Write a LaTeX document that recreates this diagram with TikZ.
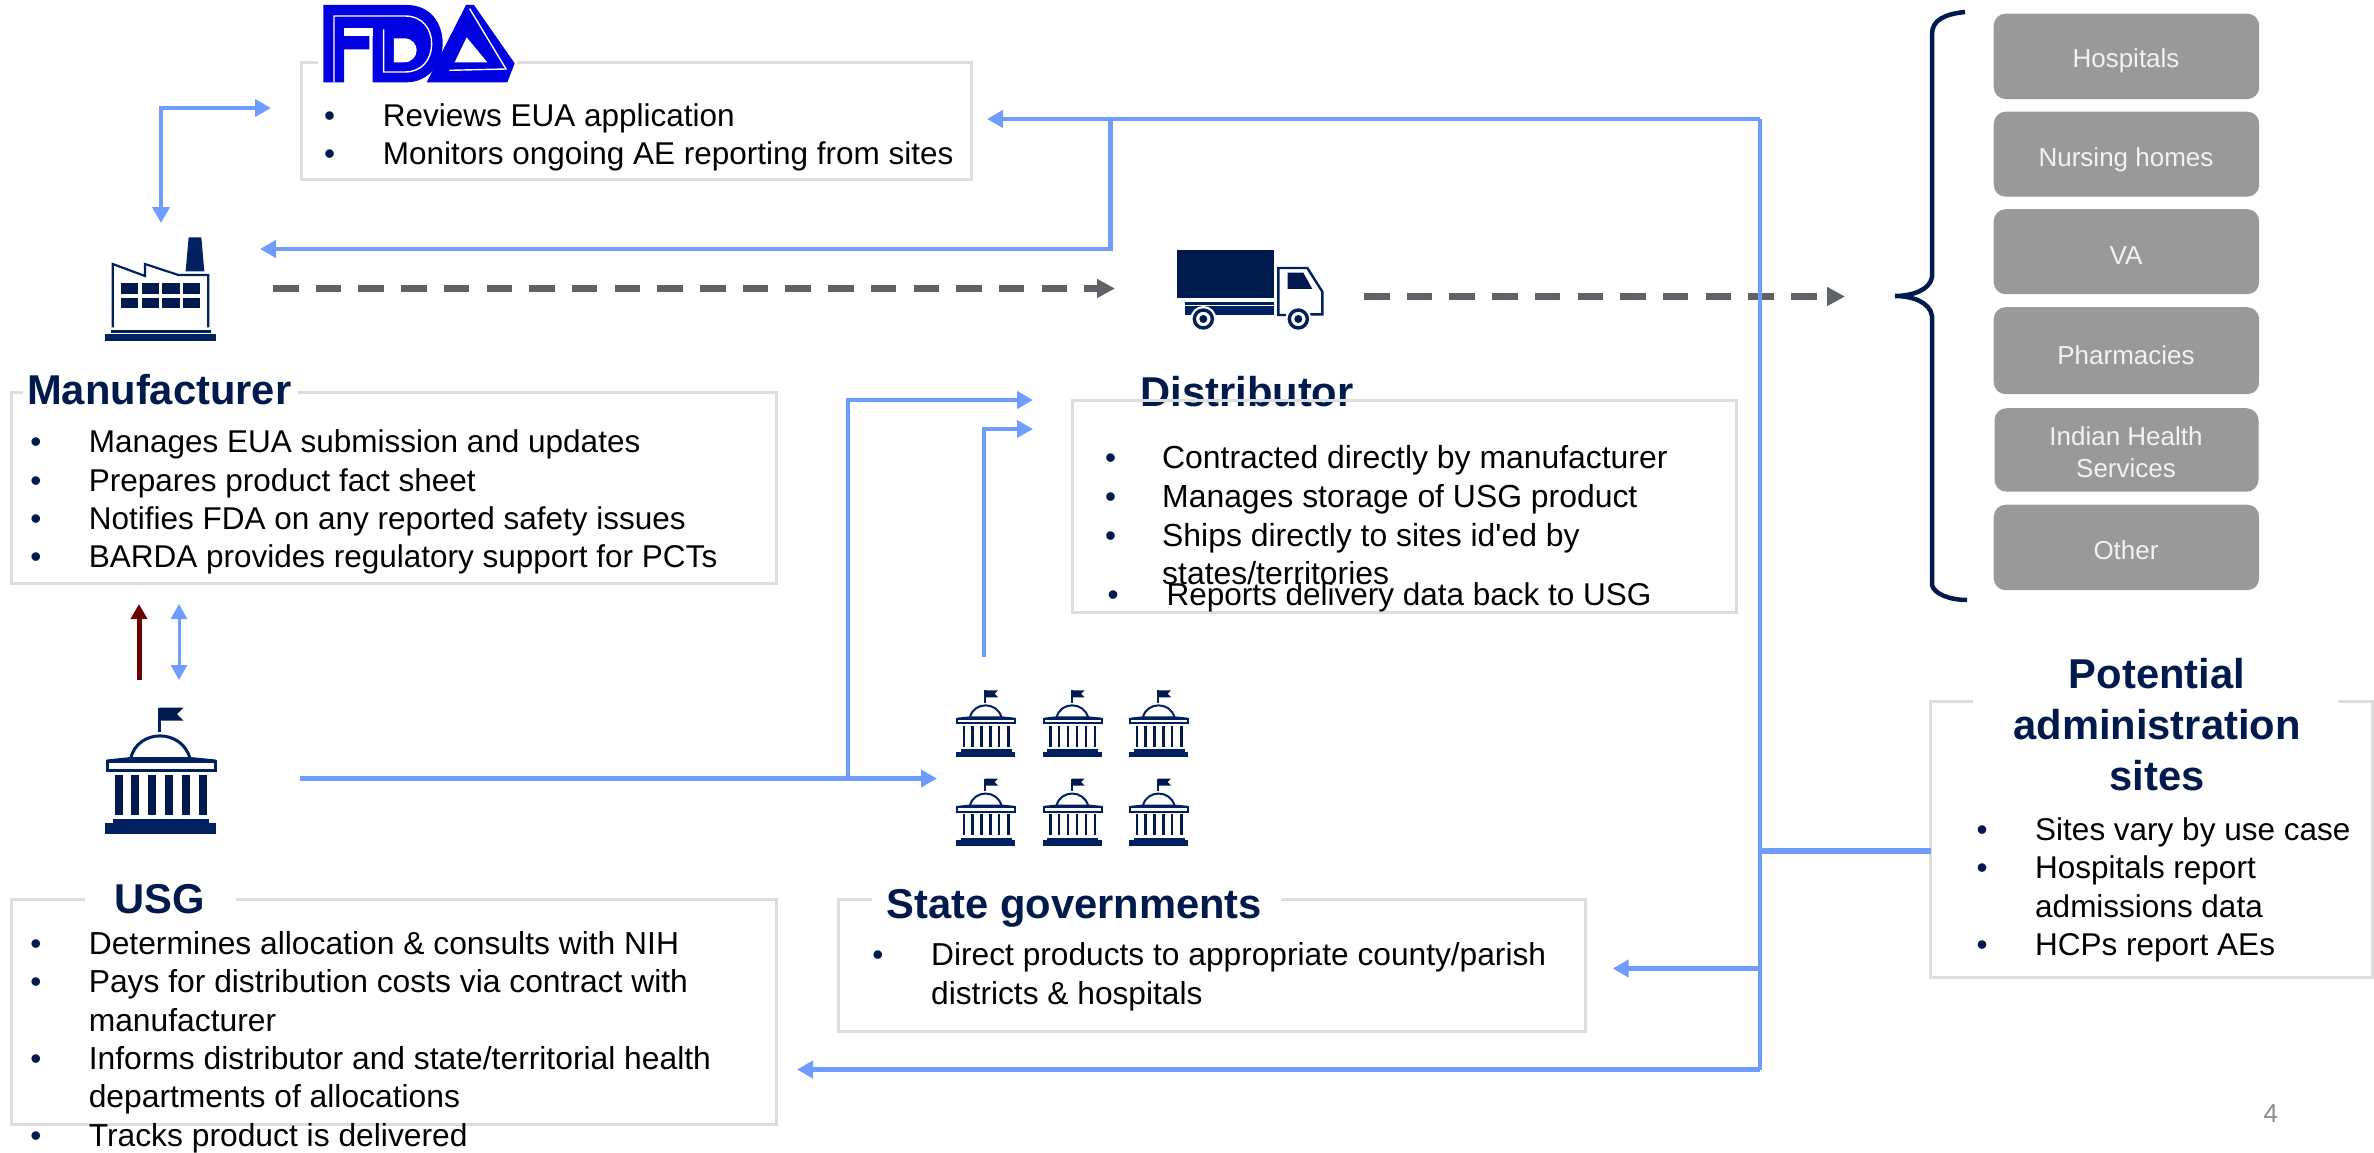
\documentclass[tikz,border=0pt]{standalone}
\usepackage{fontspec}
\setmainfont{Liberation Sans}
\usetikzlibrary{arrows.meta}
\definecolor{navy}{HTML}{001A4D}
\definecolor{iconblue}{HTML}{002060}
\definecolor{boxline}{HTML}{DDDDDD}
\definecolor{flow}{HTML}{6E9CFF}
\definecolor{dashgrey}{HTML}{5F6368}
\definecolor{maroon}{HTML}{6B0000}
\definecolor{fdablue}{HTML}{0000E0}
\definecolor{chip}{HTML}{999999}
\definecolor{chiptext}{HTML}{F2F2F2}
\tikzset{
  panel/.style={draw=boxline,line width=3pt,rectangle,anchor=north west,inner sep=0pt},
  body/.style={anchor=base west,inner sep=0pt,text=black,font=\fontsize{31.5}{38}\selectfont},
  bull/.style={anchor=base,inner sep=0pt,text=navy,font=\fontsize{31.5}{38}\selectfont},
  heading/.style={anchor=base west,inner sep=0pt,text=navy,font=\fontsize{41.7}{51}\selectfont\bfseries},
  headc/.style={heading,anchor=base},
  chipbox/.style={fill=chip,rounded corners=12pt,anchor=north west,inner sep=0pt,rectangle},
  chiplabel/.style={anchor=base,inner sep=0pt,text=chiptext,font=\fontsize{26}{31}\selectfont},
  flowline/.style={draw=flow,line width=4.5pt},
  flowarrow/.style={flowline,-{Triangle[length=16pt,width=17pt]}},
  dashflow/.style={draw=dashgrey,line width=7pt,dash pattern=on 25.5pt off 17.2pt,-{Triangle[length=18pt,width=18pt]}},
}
\newcommand{\bitem}[5]{%
  \node[bull] (#1b) at (#2,#4) {•};
  \node[body] (#1) at (#3,#4) {#5};}
\newcommand{\govicon}[5]{%
\begin{scope}[shift={(#1,#2)},scale=#3]
  \draw[iconblue,line width=#4pt] (54.4,0) -- (54.4,24.5);
  \fill[navy] (54.4,0) -- (78.7,0) -- (72,6.5) -- (78.7,13.2) -- (54.4,13.2) -- cycle;
  \draw[iconblue,line width=#4pt] (25.7,51) .. controls (29,36) and (42,28.4) .. (55,28.4) .. controls (68,28.4) and (81,36) .. (85,51);
  \draw[iconblue,line width=#4pt] (2,53.5) -- (25.7,51) -- (85,51) -- (110.6,53.5);
  \draw[iconblue,line width=#4pt] (2,53.5) rectangle (110.6,62.5);
  \foreach \cx in {9.8,26.4,43,60,76.8,94}
    \fill[navy] (\cx+4-#5/2,67.5) rectangle ++(#5,39.5);
  \fill[iconblue] (8,111.5) rectangle (104,115.5);
  \fill[iconblue] (0,115.5) rectangle (111,126.5);
\end{scope}}
\begin{document}
\begin{tikzpicture}[x=1pt,y=-1pt]
\useasboundingbox (0,0) rectangle (2374,1153);
\fill[white] (0,0) rectangle (2374,1153);

% panels
\node[panel,minimum width=670pt,minimum height=117pt] (fdabox) at (300,61) {};
\node[panel,minimum width=765pt,minimum height=191pt] (mfgbox) at (10,391) {};
\node[panel,minimum width=765pt,minimum height=225pt] (usgbox) at (10,898) {};
\node[panel,minimum width=747pt,minimum height=132pt] (statebox) at (837.4,898) {};
\node[heading] (disttitle) at (1140.3,406.7) {Distributor};
\node[panel,minimum width=664pt,minimum height=212pt] (distbox) at (1071.4,398.7) {};
\node[panel,minimum width=442pt,minimum height=276pt] (sitebox) at (1928.5,700) {};

% gaps in the panel frames
\fill[white] (23,385) rectangle (298,397);
\fill[white] (85,892) rectangle (236,904);
\fill[white] (872,892) rectangle (1281,904);
\fill[white] (1973,694) rectangle (2338,706);
\fill[white] (318,50) rectangle (517,90);

% FDA logo
\begin{scope}[shift={(310,0)},x=0.3333pt,y=-0.3333pt]
  \fill[fdablue] (40,15) -- (290,15) .. controls (362,15) and (398,70) .. (398,130) .. controls (398,195) and (352,247) .. (290,247) -- (188,247) -- (188,108) -- (178,108) -- (178,148) -- (102,148) -- (102,247) -- (40,247) -- cycle;
  \fill[white] (102,85) rectangle (188,108);
  \fill[white] (252,115) -- (282,115) .. controls (308,115) and (320,135) .. (320,150) .. controls (320,170) and (306,187) .. (282,187) -- (252,187) -- cycle;
  \draw[white,line width=1.4pt] (72,247) -- (72,48) -- (285,48) .. controls (340,48) and (365,90) .. (365,130) .. controls (365,180) and (335,216) .. (285,216) -- (221,216) -- (221,88);
  \fill[fdablue] (350,247) -- (468,15) -- (492,15) -- (614,190) -- (592,247) -- cycle;
  \fill[white] (470,112) -- (532,187) -- (434,187) -- cycle;
  \draw[white,line width=1.4pt] (479,26) -- (588,207) -- (418,211);
\end{scope}

% factory
\begin{scope}[shift={(95,230)},x=0.3333pt,y=-0.3333pt]
  \fill[iconblue] (281,22) -- (319,22) -- (328,124) -- (272,124) -- cycle;
  \draw[iconblue,line width=2.2pt] (53,292) -- (53,102) -- (150,138) -- (150,102) -- (250,135) -- (340,135) -- (340,292);
  \foreach \wx in {78,140,202,264} {
    \fill[navy] (\wx,160) rectangle ++(52,32);
    \fill[navy] (\wx,204) rectangle ++(52,31);
  }
  \fill[iconblue] (48,300) rectangle (347,310);
  \fill[iconblue] (31,311) rectangle (363,334);
\end{scope}

% truck
\begin{scope}[shift={(1170,240)},x=0.3333pt,y=-0.3333pt]
  \fill[navy] (22,30) rectangle (313,173);
  \fill[iconblue] (45,185) rectangle (313,226);
  \draw[white,line width=0.7pt] (45,196) -- (313,196);
  \draw[iconblue,line width=2.4pt] (350,225) -- (325,225) -- (325,84) -- (412,84) -- (457,155) -- (457,223) -- (420,223);
  \fill[navy] (353,98) -- (400,98) -- (427,147) -- (353,147) -- cycle;
  \foreach \wc in {100,385} {
    \fill[white] (\wc,237) circle [radius=13pt];
    \draw[iconblue,line width=3.4pt] (\wc,237) circle [radius=9pt];
    \fill[navy] (\wc,237) circle [radius=4pt];
  }
\end{scope}

% government icons
\govicon{105}{707.5}{1}{3}{8}
\govicon{956.4}{690.3}{0.53}{2}{4.5}
\govicon{1043}{690.3}{0.53}{2}{4.5}
\govicon{1129.4}{690.3}{0.53}{2}{4.5}
\govicon{956.4}{778.5}{0.53}{2}{4.5}
\govicon{1043}{778.5}{0.53}{2}{4.5}
\govicon{1129.4}{778.5}{0.53}{2}{4.5}

% panel text
\bitem{fda1}{329.7}{382.6}{127}{Reviews EUA application}
\bitem{fda2}{329.7}{382.6}{164.8}{Monitors ongoing AE reporting from sites}

\node[heading] (mfgtitle) at (27,404.5) {Manufacturer};
\bitem{mfg1}{36}{88.6}{452.7}{Manages EUA submission and updates}
\bitem{mfg2}{36}{88.6}{491}{Prepares product fact sheet}
\bitem{mfg3}{36}{88.6}{529}{Notifies FDA on any reported safety issues}
\bitem{mfg4}{36}{88.6}{567.5}{BARDA provides regulatory support for PCTs}

\node[headc] (usgtitle) at (160,913) {USG};
\begin{scope}[body/.append style={font=\fontsize{31.8}{38}\selectfont}]
\bitem{usg1}{36}{88.6}{954}{Determines allocation \& consults with NIH}
\bitem{usg2}{36}{88.6}{992.5}{Pays for distribution costs via contract with}
\node[body] (usg2b2) at (88.6,1031) {manufacturer};
\bitem{usg3}{36}{88.6}{1069.5}{Informs distributor and state/territorial health}
\node[body] (usg3b2) at (88.6,1107.5) {departments of allocations};
\bitem{usg4}{36}{88.6}{1146.5}{Tracks product is delivered}
\end{scope}

\node[heading] (statetitle) at (886.5,918.5) {State governments};
\begin{scope}[body/.append style={font=\fontsize{31.7}{38}\selectfont}]
\bitem{st1}{878}{931}{965.5}{Direct products to appropriate county/parish}
\node[body] (st1b2) at (931,1004.5) {districts \& hospitals};
\end{scope}

\begin{scope}[body/.append style={font=\fontsize{31.9}{38}\selectfont}]
\bitem{di1}{1110.7}{1162}{468.7}{Contracted directly by manufacturer}
\bitem{di2}{1110.7}{1162}{507.7}{Manages storage of USG product}
\bitem{di3}{1110.7}{1162}{546}{Ships directly to sites id\textquotesingle ed by}
\node[body] (di3b2) at (1162,584.3) {states/territories};
\end{scope}
\bitem{di4}{1113}{1166.3}{605.3}{Reports delivery data back to USG}

\node[headc] (pot1) at (2157,688) {Potential};
\node[headc] (pot2) at (2157,739) {administration};
\node[headc] (pot3) at (2157,790) {sites};
\bitem{si1}{1982}{2035}{840.5}{Sites vary by use case}
\bitem{si2}{1982}{2035}{878.5}{Hospitals report}
\node[body] (si2b2) at (2035,917.5) {admissions data};
\bitem{si3}{1982}{2035}{955.5}{HCPs report AEs}

% site chips
\node[chipbox,minimum width=265.5pt,minimum height=85.5pt] (c1) at (1993.5,13.4) {};
\node[chipbox,minimum width=265.5pt,minimum height=85pt] (c2) at (1993.5,111.5) {};
\node[chipbox,minimum width=265.5pt,minimum height=85pt] (c3) at (1993.5,209) {};
\node[chipbox,minimum width=265.5pt,minimum height=87pt] (c4) at (1993.5,307) {};
\node[chipbox,minimum width=264pt,minimum height=83.5pt] (c5) at (1994.3,408) {};
\node[chipbox,minimum width=265.5pt,minimum height=85.5pt] (c6) at (1993.5,504.5) {};
\node[chiplabel] (l1) at (2126,68) {Hospitals};
\node[chiplabel] (l2) at (2126,166) {Nursing homes};
\node[chiplabel] (l3) at (2126,264.7) {VA};
\node[chiplabel] (l4) at (2126,364) {Pharmacies};
\node[chiplabel] (l5) at (2126,445.3) {Indian Health};
\node[chiplabel] (l5b) at (2126,477) {Services};
\node[chiplabel] (l6) at (2126,559.2) {Other};

% brace
\draw[navy,line width=4.5pt] (1965,12) .. controls (1945,14) and (1932,20) .. (1932,34) -- (1932,277) .. controls (1930,290) and (1912,296) .. (1895,296) .. controls (1912,296) and (1930,302) .. (1932,316) -- (1932,585) .. controls (1934,594) and (1950,600) .. (1967,600);

% connector ends
\coordinate (fdaL) at (271,108);
\coordinate (mfgT) at (161,223);
\coordinate (elbowA) at (161,108);
\coordinate (fdaR) at (987,119);
\coordinate (busT) at (1760,119);
\coordinate (busB) at (1760,1069.5);
\coordinate (busJ) at (1110.7,119);
\coordinate (busK) at (1110.7,249);
\coordinate (mfgR) at (260,249);
\coordinate (mfgD) at (273,288.5);
\coordinate (truckL) at (1115,288.5);
\coordinate (truckR) at (1364,296.5);
\coordinate (braceL) at (1845,296.5);
\coordinate (redA) at (139,680);
\coordinate (redB) at (139,604);
\coordinate (dblA) at (179,680);
\coordinate (dblB) at (179,604);
\coordinate (usgR) at (300,778.5);
\coordinate (stateL) at (937,778.5);
\coordinate (branchA) at (848,778.5);
\coordinate (branchB) at (848,400);
\coordinate (distA) at (1033,400);
\coordinate (stemA) at (984,656.5);
\coordinate (stemB) at (984,429);
\coordinate (distB) at (1033,429);
\coordinate (stateR) at (1612.6,968.5);
\coordinate (usgBoxR) at (797,1069.5);
\coordinate (siteL) at (1931,851);

% dashed flows
\draw[dashflow] (mfgD) -- (truckL);
\draw[dashflow] (truckR) -- (braceL);

% blue flows
\draw[flowline,line width=4pt,{Triangle[length=16pt,width=17pt]}-{Triangle[length=16pt,width=17pt]}] (fdaL) -- (elbowA) -- (mfgT);
\draw[flowarrow] (busT) -- (fdaR);
\draw[flowarrow] (busJ) -- (busK) -- (mfgR);
\draw[flowline,line width=4pt] (busT) -- (busB);
\draw[flowarrow] (busB) -- (usgBoxR);
\draw[flowarrow] (busT |- stateR) -- (stateR);
\draw[flowline,line width=6pt] (busT |- siteL) -- (siteL);
\draw[flowarrow,line width=5pt] (usgR) -- (stateL);
\draw[flowline,line width=3.8pt,-{Triangle[length=16pt,width=17pt]}] (branchA) -- (branchB) -- (distA);
\draw[flowline,line width=3.5pt,-{Triangle[length=16pt,width=17pt]}] (stemA) -- (stemB) -- (distB);
\draw[flowline,line width=3pt,{Triangle[length=15pt,width=16pt]}-{Triangle[length=15pt,width=16pt]}] (dblA) -- (dblB);
\draw[maroon,line width=5pt,-{Triangle[length=15pt,width=16pt]}] (redA) -- (redB);

% page number
\node[anchor=base,inner sep=0pt,text=gray!90,font=\fontsize{26}{29}\selectfont] (pageno) at (2270.7,1122) {4};
\end{tikzpicture}
\end{document}
